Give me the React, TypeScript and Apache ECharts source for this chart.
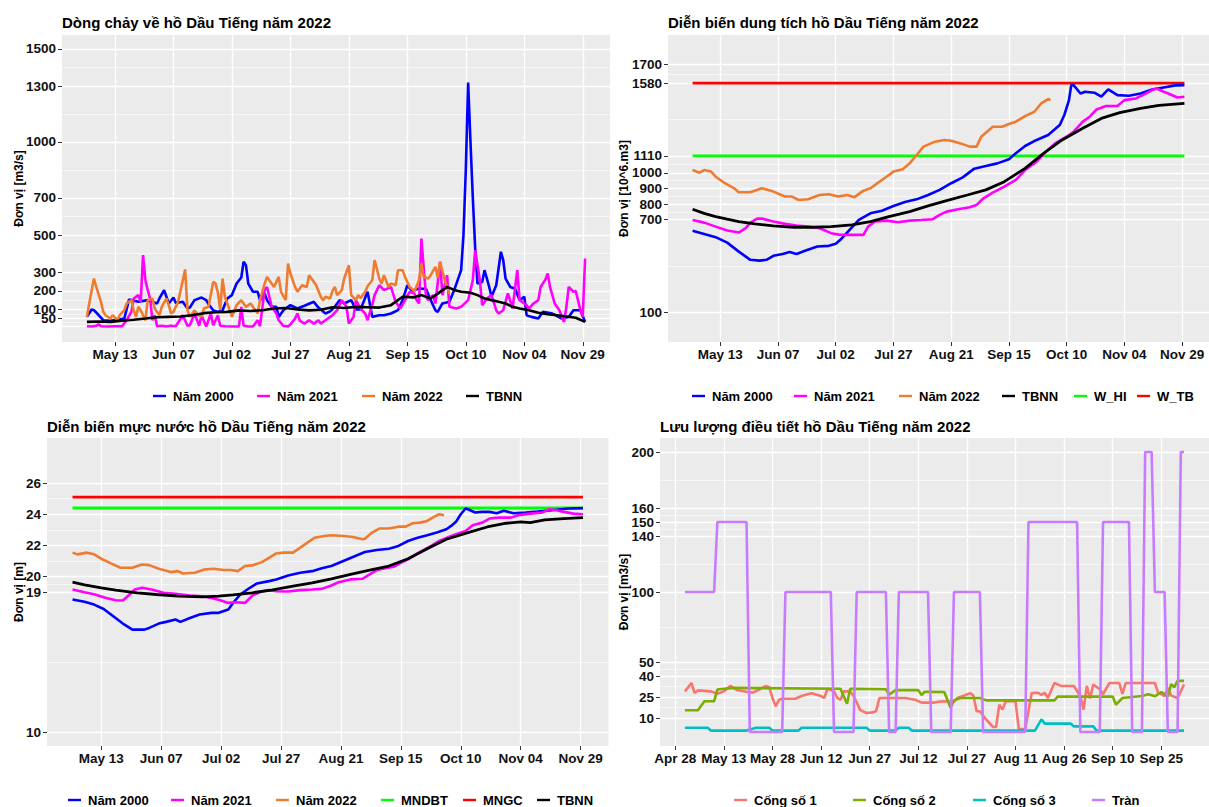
import React, { useEffect, useRef } from "react";
import * as echarts from "echarts";

// ---------- DATA (x = days since 2022-05-01) ----------
const xTicksMain = [12, 37, 62, 87, 112, 137, 162, 187, 212];
const xTicksGate = [-3, 12, 27, 42, 57, 72, 87, 102, 117, 132, 147];

const yTicksInflow = [10, 50, 100, 200, 300, 500, 700, 1000, 1300, 1500];
const yTicksStorage = [100, 700, 800, 900, 1000, 1110, 1580, 1700];
const yTicksLevel = [10, 19, 20, 22, 24, 26];
const yTicksGate = [10, 25, 40, 50, 100, 140, 150, 160, 200];

const inflow2000 = [[0,60],[2,100],[3,96],[5,70],[7,42],[10,39],[13,45],[16,51],[18,153],[22,141],[26,150],[30,132],[31,159],[33,204],[35,132],[37,164],[38,135],[41,141],[43,105],[44,110],[46,150],[49,164],[51,150],[52,128],[54,96],[56,87],[58,96],[60,159],[62,177],[64,239],[66,272],[67,356],[68,338],[69,239],[71,195],[73,195],[74,150],[76,186],[77,150],[79,114],[81,114],[82,60],[84,96],[85,105],[87,123],[90,105],[93,120],[97,141],[99,110],[102,78],[104,90],[106,114],[108,150],[110,132],[113,150],[115,100],[117,100],[120,195],[122,60],[125,69],[127,69],[130,78],[133,96],[135,150],[137,230],[139,200],[142,212],[145,210],[147,150],[149,96],[150,87],[152,132],[155,141],[157,203],[158,239],[160,311],[161,500],[162,850],[163,1320],[164,1000],[165,700],[166,430],[167,239],[169,248],[170,311],[172,221],[173,168],[175,230],[177,410],[178,365],[179,266],[181,221],[183,212],[185,150],[187,168],[188,69],[190,60],[193,51],[195,87],[199,78],[203,51],[206,60],[208,96],[211,96],[213,33]];
const inflow2021 = [[0,10],[2,8],[4,12],[5,20],[6,10],[9,8],[12,10],[15,10],[17,42],[19,87],[20,159],[22,177],[23,141],[24,392],[25,257],[26,204],[27,159],[28,42],[29,69],[30,10],[32,12],[34,8],[36,12],[38,10],[41,69],[43,12],[44,15],[46,78],[48,12],[49,69],[51,8],[53,78],[54,15],[56,69],[57,12],[59,10],[62,8],[65,8],[66,114],[67,12],[69,8],[71,8],[73,42],[74,10],[76,204],[77,221],[78,168],[79,114],[81,78],[82,42],[84,12],[86,8],[87,20],[89,51],[90,78],[91,40],[93,24],[95,42],[97,24],[99,42],[100,24],[102,42],[104,60],[105,69],[107,96],[109,150],[111,114],[112,24],[114,60],[115,150],[117,105],[119,78],[120,42],[122,123],[123,177],[125,230],[127,204],[130,221],[132,141],[134,105],[136,150],[138,195],[140,186],[141,150],[142,132],[143,481],[145,168],[146,150],[148,177],[149,132],[151,356],[152,177],[154,284],[155,114],[158,105],[160,114],[163,150],[165,257],[166,419],[168,257],[169,123],[171,159],[173,177],[175,96],[176,78],[178,96],[180,186],[182,105],[184,311],[185,150],[188,123],[189,105],[191,132],[193,150],[194,221],[196,260],[197,293],[198,221],[200,132],[202,96],[204,33],[205,114],[206,221],[208,195],[209,200],[211,96],[212,60],[213,374]];
const inflow2022 = [[0,60],[1,132],[3,266],[4,221],[6,141],[7,87],[8,69],[10,51],[11,69],[13,42],[14,69],[16,96],[17,132],[19,150],[20,96],[21,60],[22,114],[23,96],[25,42],[26,150],[28,159],[29,105],[31,69],[32,114],[34,159],[35,123],[36,78],[37,87],[39,141],[42,315],[43,96],[44,60],[46,96],[47,78],[49,60],[50,105],[52,114],[54,248],[55,240],[56,190],[57,96],[58,266],[59,168],[61,96],[62,60],[64,123],[66,150],[68,114],[70,132],[73,78],[74,150],[76,239],[77,275],[78,257],[80,221],[82,275],[83,195],[85,150],[86,347],[87,293],[89,221],[90,195],[92,230],[94,221],[95,284],[96,266],[98,230],[100,168],[101,150],[102,168],[104,159],[105,200],[106,221],[107,177],[109,204],[110,266],[112,338],[113,177],[115,150],[116,177],[117,160],[119,195],[120,225],[122,257],[123,365],[125,266],[126,239],[127,284],[129,221],[130,240],[132,230],[133,311],[135,311],[136,275],[138,221],[139,210],[140,195],[142,257],[143,347],[144,275],[146,266],[147,284],[149,329],[150,270],[151,356],[153,257],[154,221],[155,185]];
const inflowTBNN = [[0,33],[5,35],[10,33],[15,40],[20,45],[25,51],[30,58],[35,60],[40,62],[45,69],[50,80],[55,85],[60,87],[65,95],[70,92],[75,96],[80,105],[85,108],[90,100],[95,95],[100,98],[105,112],[110,108],[115,114],[120,112],[125,110],[130,123],[135,168],[140,165],[143,177],[147,159],[150,185],[154,221],[157,205],[160,195],[164,190],[167,177],[170,159],[173,150],[176,141],[179,132],[182,114],[185,105],[189,96],[193,82],[197,75],[201,69],[205,62],[209,55],[213,33]];

const storage2000 = [[0,627],[5,607],[10,586],[15,551],[20,493],[25,440],[29,435],[32,440],[35,466],[39,478],[42,491],[45,478],[49,500],[54,526],[59,530],[62,543],[64,569],[68,633],[72,697],[77,740],[82,757],[87,787],[92,813],[97,830],[102,858],[107,891],[112,934],[117,972],[122,1028],[127,1045],[132,1062],[137,1088],[140,1127],[144,1174],[149,1213],[154,1245],[159,1309],[161,1374],[163,1470],[164,1567],[165,1567],[168,1513],[170,1524],[174,1518],[177,1492],[180,1539],[184,1502],[189,1498],[194,1513],[199,1539],[204,1552],[209,1565],[213,1567]];
const storage2021 = [[0,697],[5,680],[10,654],[15,629],[20,616],[23,644],[25,680],[28,706],[30,706],[35,687],[40,672],[45,661],[50,654],[55,644],[60,612],[64,601],[69,601],[74,601],[76,654],[79,687],[84,693],[89,682],[94,693],[99,697],[104,702],[107,730],[110,751],[115,766],[120,779],[123,794],[126,837],[130,873],[135,912],[140,955],[144,1019],[149,1073],[153,1138],[157,1191],[162,1234],[165,1266],[169,1331],[172,1363],[175,1410],[179,1432],[184,1432],[187,1470],[192,1481],[195,1502],[199,1535],[201,1545],[204,1524],[206,1513],[210,1487],[213,1492]];
const storage2022 = [[0,1019],[3,1002],[5,1019],[8,1009],[10,976],[14,934],[18,901],[20,876],[25,876],[30,901],[35,880],[40,848],[43,848],[46,826],[50,831],[55,858],[59,863],[63,848],[67,858],[70,843],[74,886],[77,901],[80,934],[84,976],[87,1009],[91,1024],[94,1062],[97,1116],[100,1170],[105,1202],[109,1213],[112,1208],[116,1191],[120,1170],[123,1170],[125,1234],[130,1298],[134,1298],[137,1316],[140,1331],[144,1367],[148,1395],[151,1449],[154,1477],[155,1470]];
const storageTBNN = [[0,766],[5,740],[10,719],[15,702],[20,687],[27,672],[35,659],[44,650],[52,650],[60,654],[69,665],[77,687],[85,719],[94,751],[102,788],[110,822],[119,858],[127,891],[135,944],[144,1030],[152,1127],[160,1213],[169,1288],[177,1352],[185,1389],[194,1417],[202,1436],[213,1449]];
const storageWHI = 1110;
const storageWTB = 1580;

const level2000 = [[0,18.52],[5,18.37],[9,18.19],[13,17.91],[17,17.44],[21,16.97],[25,16.58],[30,16.58],[32,16.69],[36,16.97],[39,17.08],[43,17.23],[45,17.08],[49,17.33],[53,17.55],[58,17.66],[61,17.66],[65,17.87],[67,18.3],[70,18.84],[74,19.27],[77,19.55],[82,19.7],[85,19.81],[90,20.06],[95,20.24],[100,20.34],[104,20.52],[108,20.67],[113,20.99],[118,21.31],[122,21.57],[127,21.7],[132,21.78],[136,21.96],[140,22.28],[144,22.49],[148,22.65],[152,22.82],[156,23.03],[158,23.25],[160,23.51],[162,24.0],[164,24.37],[165,24.32],[168,24.11],[171,24.15],[174,24.15],[177,24.06],[180,24.22],[184,24.06],[189,24.11],[194,24.17],[200,24.26],[207,24.37],[213,24.39]];
const level2021 = [[0,19.16],[5,18.99],[9,18.86],[14,18.62],[18,18.47],[21,18.45],[23,18.73],[26,19.16],[29,19.27],[33,19.16],[38,18.95],[43,18.88],[49,18.77],[54,18.73],[58,18.62],[62,18.45],[65,18.3],[68,18.34],[72,18.3],[75,18.77],[79,19.05],[82,19.12],[85,19.05],[90,19.03],[95,19.12],[100,19.16],[104,19.2],[108,19.42],[111,19.63],[116,19.81],[121,19.85],[124,20.13],[127,20.41],[131,20.54],[134,20.62],[137,20.88],[140,21.1],[144,21.48],[147,21.74],[150,22.0],[153,22.28],[157,22.54],[160,22.71],[164,22.92],[167,23.29],[171,23.46],[174,23.72],[178,23.78],[183,23.78],[186,23.94],[191,24.04],[196,24.11],[199,24.32],[202,24.26],[205,24.15],[209,24.04],[213,24.0]];
const level2022 = [[0,21.53],[2,21.42],[6,21.53],[9,21.42],[12,21.14],[16,20.84],[20,20.56],[25,20.56],[29,20.77],[32,20.73],[36,20.49],[41,20.28],[44,20.34],[46,20.19],[51,20.24],[55,20.45],[59,20.49],[63,20.41],[66,20.41],[69,20.34],[72,20.67],[75,20.71],[79,20.92],[82,21.2],[85,21.48],[88,21.53],[92,21.53],[95,21.85],[98,22.17],[101,22.49],[105,22.6],[108,22.65],[113,22.6],[117,22.54],[121,22.39],[122,22.43],[125,22.82],[128,23.08],[132,23.08],[136,23.2],[139,23.2],[142,23.42],[145,23.46],[148,23.57],[151,23.85],[153,24.0],[155,23.94]];
const levelTBNN = [[0,19.63],[5,19.46],[12,19.27],[18,19.12],[27,18.95],[35,18.84],[44,18.73],[54,18.69],[61,18.73],[67,18.82],[75,18.95],[83,19.12],[92,19.38],[100,19.59],[108,19.85],[116,20.13],[124,20.41],[132,20.67],[140,21.14],[148,21.78],[156,22.39],[165,22.82],[173,23.18],[181,23.42],[187,23.51],[191,23.46],[197,23.63],[205,23.72],[213,23.78]];
const levelMNDBT = 24.4;
const levelMNGC = 25.1;

const gate1 = [[0,29],[2,35],[3,27.8],[4,29.7],[8,29],[10,27.3],[12,29],[13,31],[14,32.9],[16,30],[19,28.8],[21,28.1],[23,30.5],[25,32.9],[26,32],[27,24.3],[28,18.3],[29,23],[30,23.8],[34,23.8],[36,25.7],[39,27.6],[42,25.7],[43,24.3],[44,31],[46,29],[47,24.3],[48,23],[49,29],[51,29],[52,25.7],[53,21.2],[54,15.8],[56,13.6],[58,14],[59,15],[60,24.3],[68,24.3],[71,23.1],[73,21],[77,21],[78,21.5],[80,22],[83,21.5],[84,24.3],[86,25.9],[88,27.8],[89,26],[90,14.8],[91,14.8],[93,8.8],[95,3.6],[96,3.6],[97,19.5],[98,16],[99,22],[102,22],[103,2.1],[105,2.1],[107,27.8],[109,28],[110,26.5],[111,28],[112,24.3],[114,35],[116,32.9],[120,32.9],[122,25.7],[123,16],[124,32.9],[125,24],[126,33.9],[128,30.5],[129,27],[131,35],[134,35],[135,27.3],[136,35],[145,35],[146,28.1],[148,25.7],[149,31.5],[150,26],[152,24.3],[154,33.9]];
const gate2 = [[0,15.5],[4,15.5],[6,22],[9,22],[10,30.3],[15,31.5],[48,30.9],[50,20.2],[51,30.9],[62,30.5],[63,26.7],[65,29.9],[72,29.9],[73,26.4],[74,28.8],[80,28.6],[82,17.2],[83,22.6],[85,24.3],[91,24.3],[93,22.6],[114,22.6],[115,25.3],[132,25.3],[133,19.5],[135,24.3],[141,25.7],[143,26.9],[145,25.5],[147,28.6],[148,27],[149,25],[150,34.2],[151,32],[152,36.5],[154,36.5]];
const gate3 = [[0,3],[7,3],[8,1],[19,1],[22,3],[26,3],[27,1],[35,1],[36,3],[56,3],[57,1],[65,1],[66,3],[69,3],[70,1],[108,1],[110,9],[111,6],[119,6],[120,4],[126,4],[127,1],[154,1]];
const spill = [[0,100],[9,100],[10,150],[19,150],[20,0],[30,0],[31,100],[45,100],[46,0],[52,0],[53,100],[62,100],[63,0],[65,0],[66,100],[75,100],[76,0],[82,0],[83,100],[91,100],[92,0],[105,0],[106,150],[121,150],[122,0],[128,0],[129,150],[137,150],[138,0],[141,0],[142,200],[144,200],[145,100],[148,100],[149,0],[152,0],[153,200],[154,200]];

const titles = [
  "Dòng chảy về hồ Dầu Tiếng năm 2022",
  "Diễn biến dung tích hồ Dầu Tiếng năm 2022",
  "Diễn biến mực nước hồ Dầu Tiếng năm 2022",
  "Lưu lượng điều tiết hồ Dầu Tiếng năm 2022",
];
const yNames = ["Đơn vị [m3/s]", "Đơn vị [10^6.m3]", "Đơn vị [m]", "Đơn vị [m3/s]"];

// ---------- STYLE / LAYOUT ----------
const FONT = '"Liberation Sans", Arial, Helvetica, sans-serif';
const C = {
  blue: "#0000FF", magenta: "#FF00FF", orange: "#EE7B30", black: "#000000",
  green: "#00FF00", red: "#FF0000",
  g1: "#F8766D", g2: "#7CAE00", g3: "#00BFC4", spill: "#C77CFF",
};
const MONTHS = ["Jan","Feb","Mar","Apr","May","Jun","Jul","Aug","Sep","Oct","Nov","Dec"];
const fmtDay = (d: number) => {
  const dt = new Date(2022, 4, 1 + Math.round(d));
  return `${MONTHS[dt.getMonth()]} ${String(dt.getDate()).padStart(2, "0")}`;
};
const fmtNum = (v: number) => String(v);
const minorOf = (t: number[]) => t.slice(1).map((v, i) => (v + t[i]) / 2);

const grids = [
  { left: 62, top: 35, width: 548, height: 307 },
  { left: 668, top: 35, width: 547, height: 307 },
  { left: 47, top: 438, width: 561.5, height: 308 },
  { left: 660, top: 438, width: 554, height: 308 },
];

const labelStyle = { color: "#111", fontWeight: "bold" as const, fontSize: 13.5, fontFamily: FONT };

function xAxis(gi: number, min: number, max: number, ticks: number[]) {
  return {
    type: "value", gridIndex: gi, min, max, position: "bottom",
    axisLine: { show: false, onZero: false },
    axisTick: { show: true, length: 4, lineStyle: { color: "#333", width: 1 }, customValues: ticks },
    axisLabel: { ...labelStyle, margin: 5, customValues: ticks, formatter: fmtDay },
    splitLine: { show: true, lineStyle: { color: "#fff", width: 1.3 } },
  };
}
function yAxis(gi: number, min: number, max: number, ticks: number[]) {
  return {
    type: "value", gridIndex: gi, min, max, position: "left",
    axisLine: { show: false, onZero: false },
    axisTick: { show: true, length: 4, lineStyle: { color: "#333", width: 1 }, customValues: ticks },
    axisLabel: { ...labelStyle, margin: 6, customValues: ticks, formatter: fmtNum },
    splitLine: { show: true, lineStyle: { color: "#fff", width: 1.3 } },
  };
}
function yMinor(gi: number, min: number, max: number, ticks: number[]) {
  return {
    type: "value", gridIndex: gi, min, max, position: "left",
    axisLine: { show: false, onZero: false },
    axisTick: { show: false, customValues: minorOf(ticks) },
    axisLabel: { show: false, customValues: minorOf(ticks) },
    splitLine: { show: true, lineStyle: { color: "#fff", width: 0.6 } },
  };
}

function line(name: string, data: number[][], color: string, gi: number, width = 2.6) {
  return {
    type: "line", name, data, xAxisIndex: gi, yAxisIndex: gi,
    symbol: "none", showSymbol: false, silent: true,
    lineStyle: { color, width }, itemStyle: { color },
    emphasis: { disabled: true }, z: 3,
  };
}
const flat = (v: number, d0: number, d1: number) => [[d0, v], [d1, v]];

const KEY_ICON = "path://M0,0M17,17M2,7.3L15,7.3L15,9.7L2,9.7Z";
const legendRows = [
  { names: ["Năm 2000", "Năm 2021", "Năm 2022", "TBNN"], lefts: [151, 255, 360, 464], top: 387.5 },
  { names: ["Năm 2000", "Năm 2021", "Năm 2022", "TBNN", "W_HI", "W_TB"], lefts: [690, 792, 897, 1000, 1072, 1135], top: 387.5 },
  { names: ["Năm 2000", "Năm 2021", "Năm 2022", "MNDBT", "MNGC", "TBNN"], lefts: [66, 169, 274, 379, 461, 535], top: 791.5 },
  { names: ["Cống số 1", "Cống số 2", "Cống số 3", "Tràn"], lefts: [732, 851, 971, 1090], top: 791.5 },
];

function buildOption() {
  const legends: any[] = [];
  legendRows.forEach((row) =>
    row.names.forEach((n, i) =>
      legends.push({
        data: [n], left: row.lefts[i], top: row.top, padding: 0, orient: "horizontal",
        icon: KEY_ICON, itemWidth: 17, itemHeight: 17, itemStyle: { borderWidth: 0 },
        selectedMode: false,
        textStyle: { color: "#000", fontWeight: "bold", fontSize: 13, fontFamily: FONT },
      })
    )
  );

  const graphics: any[] = [];
  grids.forEach((g, i) => {
    graphics.push({
      type: "text", x: g.left, y: i < 2 ? 22 : 426,
      style: { text: titles[i], fill: "#000", font: `bold 15px ${FONT}`, align: "left", verticalAlign: "middle" },
    });
    graphics.push({
      type: "text", x: i % 2 === 0 ? 18.5 : 624, y: g.top + g.height / 2, rotation: Math.PI / 2,
      style: { text: yNames[i], fill: "#000", font: `bold 12px ${FONT}`, align: "center", verticalAlign: "middle" },
    });
  });

  return {
    animation: false,
    backgroundColor: "#fff",
    grid: grids.map((g) => ({ ...g, show: true, backgroundColor: "#EBEBEB", borderWidth: 0, containLabel: false })),
    xAxis: [
      xAxis(0, -10.65, 223.65, xTicksMain),
      xAxis(1, -10.65, 223.65, xTicksMain),
      xAxis(2, -10.65, 223.65, xTicksMain),
      xAxis(3, -7.7, 161.7, xTicksGate),
    ],
    yAxis: [
      yAxis(0, -75, 1575, yTicksInflow),
      yAxis(1, -90, 1890, yTicksStorage),
      yAxis(2, 9.1, 28.9, yTicksLevel),
      yAxis(3, -10, 210, yTicksGate),
      yMinor(0, -75, 1575, yTicksInflow),
      yMinor(1, -90, 1890, yTicksStorage),
      yMinor(2, 9.1, 28.9, yTicksLevel),
      yMinor(3, -10, 210, yTicksGate),
    ],
    legend: legends,
    graphic: graphics,
    series: [
      line("Năm 2000", inflow2000, C.blue, 0),
      line("Năm 2021", inflow2021, C.magenta, 0),
      line("Năm 2022", inflow2022, C.orange, 0),
      line("TBNN", inflowTBNN, C.black, 0),

      line("W_HI", flat(storageWHI, 0, 213), C.green, 1, 2.8),
      line("W_TB", flat(storageWTB, 0, 213), C.red, 1, 2.8),
      line("Năm 2000", storage2000, C.blue, 1),
      line("Năm 2021", storage2021, C.magenta, 1),
      line("Năm 2022", storage2022, C.orange, 1),
      line("TBNN", storageTBNN, C.black, 1, 2.8),

      line("MNDBT", flat(levelMNDBT, 0, 213), C.green, 2, 2.8),
      line("MNGC", flat(levelMNGC, 0, 213), C.red, 2, 2.8),
      line("Năm 2000", level2000, C.blue, 2),
      line("Năm 2021", level2021, C.magenta, 2),
      line("Năm 2022", level2022, C.orange, 2),
      line("TBNN", levelTBNN, C.black, 2, 2.8),

      line("Cống số 1", gate1, C.g1, 3),
      line("Cống số 2", gate2, C.g2, 3),
      line("Cống số 3", gate3, C.g3, 3),
      line("Tràn", spill, C.spill, 3),
    ],
  };
}

export default function App() {
  const ref = useRef<HTMLDivElement>(null);
  useEffect(() => {
    if (!ref.current) return;
    const chart = echarts.init(ref.current, null, { renderer: "svg" });
    chart.setOption(buildOption() as any);
    return () => chart.dispose();
  }, []);
  return (
    <div
      ref={ref}
      style={{ position: "fixed", left: 0, top: 0, width: 1209, height: 807, background: "#fff" }}
    />
  );
}
